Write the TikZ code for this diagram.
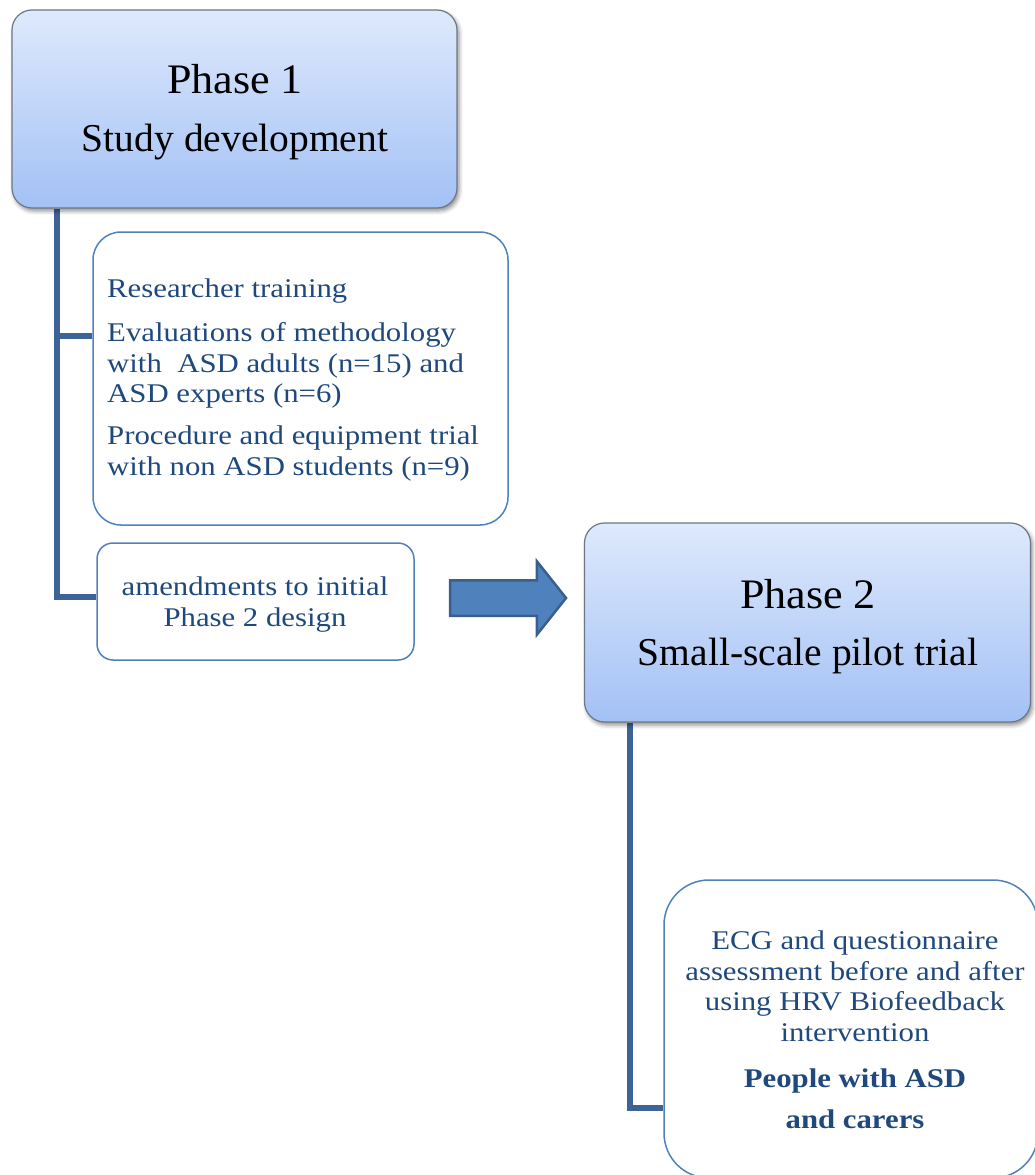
\documentclass[tikz,border=0pt]{standalone}
\usepackage{fontspec}
\setmainfont{Liberation Serif}
\newfontfamily\bodyfont{Liberation Serif}[FakeStretch=1.14]
\newfontfamily\headfont{Liberation Serif}[FakeStretch=1.05]
\newfontfamily\subheadfont{Liberation Serif}
\usetikzlibrary{shapes.arrows,shadows.blur,backgrounds}

\definecolor{inkblue}{HTML}{1F497D}
\definecolor{lineblue}{HTML}{4F81BD}
\definecolor{trunkblue}{HTML}{3E6497}
\definecolor{arrowfill}{HTML}{4F81BD}
\definecolor{arrowedge}{HTML}{3A5F8F}
\definecolor{phasetop}{HTML}{DEE9FC}
\definecolor{phasebot}{HTML}{A3C1F5}
\definecolor{phaseedge}{HTML}{6E7785}

\begin{document}
\begin{tikzpicture}[x=1pt,y=-1pt,
  phasebox/.style={rectangle, rounded corners=20pt, draw=phaseedge,
    line width=1.2pt, top color=phasetop, bottom color=phasebot,
    blur shadow={shadow xshift=2pt, shadow yshift=-3pt,
      shadow blur radius=4pt, shadow opacity=45},
    inner sep=0pt},
  itembox/.style={rectangle, draw=lineblue, line width=1.5pt, fill=white,
    inner sep=0pt},
  headtxt/.style={inner sep=0pt, text=black,
    font=\headfont\fontsize{42}{50}\selectfont},
  subheadtxt/.style={inner sep=0pt, text=black,
    font=\subheadfont\fontsize{39.5}{48}\selectfont},
  bodytxt/.style={inner sep=0pt, text=inkblue,
    font=\bodyfont\fontsize{27}{30.5}\selectfont},
  trunk/.style={draw=trunkblue, line width=5.5pt},
  bigarrow/.style={single arrow, fill=arrowfill, draw=arrowedge,
    line width=2.5pt, single arrow head extend=19pt,
    single arrow tip angle=103, inner xsep=0pt, inner ysep=16.5pt}
]
\useasboundingbox (0,0) rectangle (1035,1175);

% branch heights and trunk positions
\coordinate (t1) at (57,0);
\coordinate (t2) at (630,0);
\coordinate (b1) at (0,336);
\coordinate (b2) at (0,597);
\coordinate (b3) at (0,1108);

% Phase 1
\node[phasebox, minimum width=445pt, minimum height=198pt] (p1) at (234.5,109) {};
\node[headtxt, anchor=base] (p1a) at (235,93) {Phase 1};
\node[subheadtxt, anchor=base] (p1b) at (235,151) {Study development};

% Phase 1 activities (multi-line texts are placed by their last baseline)
\node[itembox, rounded corners=28pt, minimum width=415pt, minimum height=293pt] (list) at (300.5,378.5) {};
\node[bodytxt, anchor=base west, align=left] (listtxt) at (107,475)
  {Researcher training\\[13.5pt]
   Evaluations of methodology\\
   with\ \ ASD adults (n=15) and\\
   ASD experts (n=6)\\[11.5pt]
   Procedure and equipment trial\\
   with non ASD students (n=9)};

\node[itembox, rounded corners=16pt, minimum width=317pt, minimum height=117pt] (amend) at (255.5,601.5) {};
\node[bodytxt, anchor=base, align=center] (amendtxt) at (255,626)
  {amendments to initial\\Phase 2 design};

% transition arrow
\node[bigarrow, minimum height=116pt] (go) at (501,598) {};

% Phase 2
\node[phasebox, minimum width=446pt, minimum height=199pt] (p2) at (807.5,622.5) {};
\node[headtxt, anchor=base] (p2a) at (808,608) {Phase 2};
\node[subheadtxt, anchor=base] (p2b) at (808,665) {Small-scale pilot trial};

% Phase 2 activities
\node[itembox, rounded corners=45pt, minimum width=374pt, minimum height=298pt] (ecg) at (851,1029) {};
\node[bodytxt, anchor=base, align=center] (ecgtxt) at (855,1128)
  {ECG and questionnaire\\
   assessment before and after\\
   using HRV Biofeedback\\
   intervention\\[15.5pt]
   \textbf{People with ASD}\\[10.5pt]
   \textbf{and carers}};

% connectors behind the boxes
\begin{scope}[on background layer]
  \draw[trunk] (p1.south -| t1) |- (list.west |- b1);
  \draw[trunk] (p1.south -| t1) |- (amend.west |- b2);
  \draw[trunk] (p2.south -| t2) |- (ecg.west |- b3);
\end{scope}
\end{tikzpicture}
\end{document}
